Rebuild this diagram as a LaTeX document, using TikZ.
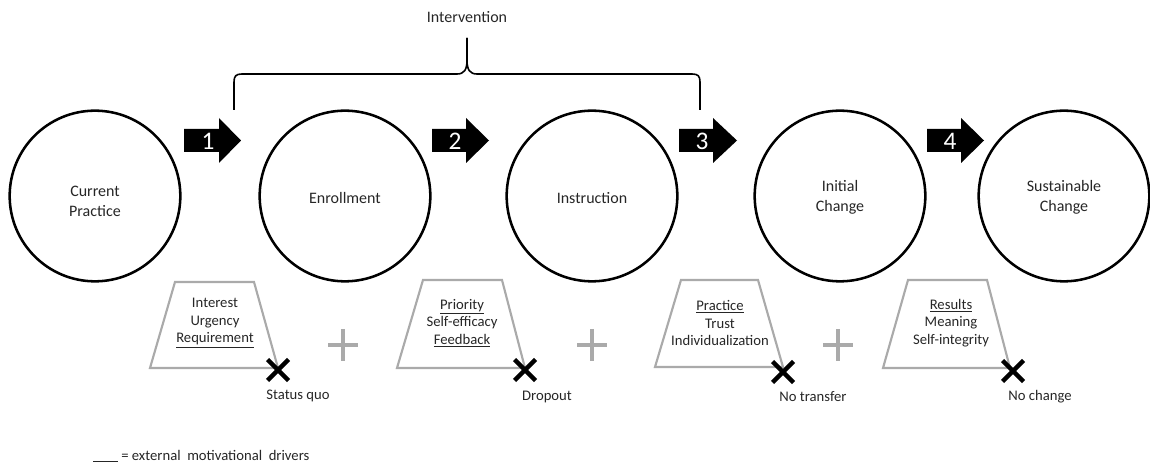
\documentclass[tikz,border=0pt]{standalone}
\usepackage{fontspec}
\setmainfont{Carlito}
\usetikzlibrary{calc}
\definecolor{trapgray}{RGB}{170,170,170}
\definecolor{txtgray}{RGB}{38,38,38}
\begin{document}
\begin{tikzpicture}[x=0.75pt,y=-0.75pt,
  stage/.style={circle, draw=black, line width=1.9pt, minimum size=128pt, inner sep=0pt},
  stagetext/.style={align=center, inner sep=0pt, text=txtgray, font=\fontsize{12}{15}\selectfont},
  blockarrow/.style={fill=black},
  num/.style={text=white, inner sep=0pt, font=\fontsize{19}{19}\selectfont},
  trap/.style={draw=trapgray, line width=1.6pt, line join=miter},
  driver/.style={align=center, inner sep=0pt, text=txtgray, font=\fontsize{11}{13.1}\selectfont},
  crossmark/.style={line width=3.2pt, draw=black},
  plusmark/.style={line width=2.4pt, draw=trapgray},
  outcome/.style={inner sep=0pt, text=txtgray, font=\fontsize{11}{13}\selectfont},
  brace/.style={line width=1.2pt, draw=black},
  lbl/.style={inner sep=0pt, text=txtgray, font=\fontsize{12}{14}\selectfont}]
\useasboundingbox (0,0) rectangle (1150,463);

% stages
\node[stage] (c1) at (95,196) {};
\node[stage] (c2) at (345,196) {};
\node[stage] (c3) at (592,196) {};
\node[stage] (c4) at (840,196) {};
\node[stage] (c5) at (1064,196) {};
\node[stagetext] (t1) at (95,201) {Current\\Practice};
\node[stagetext] (t2) at (345,198) {Enrollment};
\node[stagetext] (t3) at (592,198) {Instruction};
\node[stagetext] (t4) at (840,197.5) {Initial\\Change};
\node[stagetext] (t5) at (1064,197.5) {Sustainable\\Change};

% block arrows
\foreach \i/\xa/\xb/\xt/\xn in {1/184/219/241/208, 2/432/466/489/455, 3/679/713/737/702, 4/927/961/984/950}{
  \fill[blockarrow] (\xa,129) -- (\xb,129) -- (\xb,118) -- (\xt,140.5) -- (\xb,163) -- (\xb,152) -- (\xa,152) -- cycle;
  \node[num] (n\i) at (\xn,141) {\i};
}

% brace
\node[lbl] (interv) at (467,17) {Intervention};
\coordinate (bl) at (234,110);
\coordinate (br) at (700,110);
\coordinate (bt) at (467,38);
\draw[brace] (bl) -- (234,82) .. controls (234,76) and (236,74) .. (242,74) -- (457,74)
  .. controls (464,74) and (467,70) .. (467,60) -- (bt);
\draw[brace] (bt) -- (467,60) .. controls (467,70) and (470,74) .. (477,74) -- (692,74)
  .. controls (698,74) and (700,76) .. (700,82) -- (br);

% trapezoids
\draw[trap] (175,282) -- (254,282) -- (278,368) -- (150,368) -- cycle;
\draw[trap] (423,280) -- (502,280) -- (525,368) -- (397,368) -- cycle;
\draw[trap] (681,280) -- (758,280) -- (783,367) -- (655,367) -- cycle;
\draw[trap] (908,280) -- (987,280) -- (1010,368) -- (883,368) -- cycle;

\node[driver] (d1) at (215,323) {Interest\\Urgency\\\underline{Requirement}};
\node[driver] (d2) at (462,323) {\underline{Priority}\\Self-efficacy\\\underline{Feedback}};
\node[driver] (d3) at (720,323) {\underline{Practice}\\Trust\\Individualization};
\node[driver] (d4) at (951,323) {\underline{Results}\\Meaning\\Self-integrity};

% crosses
\foreach \i/\x/\y in {1/278/370, 2/525/370, 3/783/372, 4/1013/371}{
  \coordinate (x\i) at (\x,\y);
  \draw[crossmark] ($(x\i)+(-10.5,-10.5)$) -- ($(x\i)+(10.5,10.5)$);
  \draw[crossmark] ($(x\i)+(-10.5,10.5)$) -- ($(x\i)+(10.5,-10.5)$);
}
\node[outcome] (o1) at (298,396) {Status quo};
\node[outcome] (o2) at (547,397) {Dropout};
\node[outcome] (o3) at (813,397) {No transfer};
\node[outcome] (o4) at (1040,397) {No change};

% plus signs
\foreach \i/\x in {1/343, 2/592, 3/838}{
  \coordinate (p\i) at (\x,345);
  \draw[plusmark] ($(p\i)+(-15,0)$) -- ($(p\i)+(15,0)$);
  \draw[plusmark] ($(p\i)+(0,-16)$) -- ($(p\i)+(0,16)$);
}

% legend
\coordinate (lg1) at (93,461);
\coordinate (lg2) at (118,461);
\draw[line width=0.6pt, txtgray] (lg1) -- (lg2);
\node[inner sep=0pt, anchor=west, text=txtgray, font=\fontsize{11}{13}\selectfont] (legend) at (121,455) {= external\ \ motivational\ \ drivers};
\end{tikzpicture}
\end{document}
